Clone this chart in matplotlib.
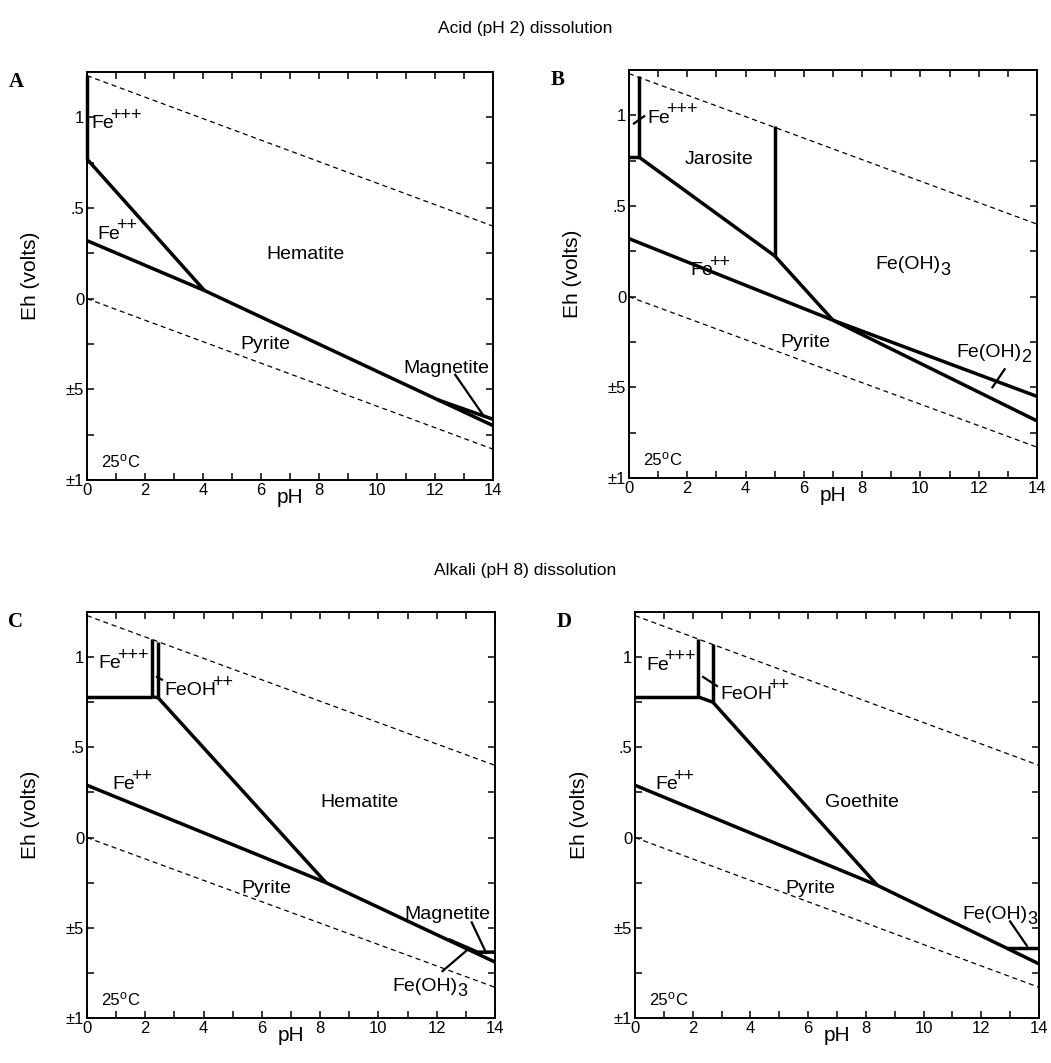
import matplotlib
matplotlib.use("Agg")
import matplotlib.pyplot as plt
from matplotlib.ticker import MultipleLocator

plt.rcParams['font.family'] = ['Liberation Sans', 'DejaVu Sans']

# stability field boundaries (pH, Eh in volts)
water_ph = [0, 14]
o2_eh = [1.23, 0.40]
h2_eh = [0.0, -0.83]

a_lines = [
    ([0, 0], [1.23, 0.77]),
    ([0, 4.05], [0.77, 0.045]),
    ([0, 4.05], [0.32, 0.045]),
    ([4.05, 14], [0.045, -0.70]),
    ([12.1, 14], [-0.558, -0.665]),
]
a_ptr = [([12.7, 13.65], [-0.42, -0.64])]
# (text, superscript, subscript, pH, Eh)
a_labels = [('Fe', '+++', '', 0.14, 0.94), ('Fe', '++', '', 0.35, 0.33),
            ('Hematite', '', '', 6.2, 0.22), ('Pyrite', '', '', 5.3, -0.28),
            ('Magnetite', '', '', 10.9, -0.41)]

b_lines = [
    ([0.34, 0.34], [1.215, 0.77]),
    ([0, 0.34], [0.77, 0.77]),
    ([0.34, 5.0], [0.77, 0.225]),
    ([5.0, 5.0], [0.225, 0.94]),
    ([5.0, 7.0], [0.225, -0.13]),
    ([0, 7.0], [0.32, -0.13]),
    ([7.0, 14], [-0.13, -0.55]),
    ([7.0, 14], [-0.13, -0.685]),
]
b_ptr = [([0.17, 0.52], [0.955, 0.995]), ([12.47, 12.89], [-0.50, -0.40])]
b_labels = [('Fe', '+++', '', 0.62, 0.96), ('Jarosite', '', '', 1.92, 0.73),
            ('Fe', '++', '', 2.1, 0.12), ('Fe(OH)', '', '3', 8.44, 0.15),
            ('Pyrite', '', '', 5.2, -0.28), ('Fe(OH)', '', '2', 11.22, -0.33)]

c_lines = [
    ([0, 2.23], [0.78, 0.78]),
    ([2.23, 2.23], [0.78, 1.10]),
    ([2.44, 2.44], [0.775, 1.085]),
    ([2.23, 2.44, 8.2], [0.78, 0.775, -0.25]),
    ([0, 8.2], [0.29, -0.25]),
    ([8.2, 14], [-0.25, -0.69]),
    ([12.4, 13.4, 14], [-0.565, -0.635, -0.635]),
]
c_ptr = [([2.40, 2.57], [0.89, 0.875]), ([13.2, 13.7], [-0.47, -0.64]),
         ([12.2, 13.07], [-0.74, -0.62])]
c_labels = [('Fe', '+++', '', 0.38, 0.94), ('FeOH', '++', '', 2.64, 0.79),
            ('Fe', '++', '', 0.86, 0.27), ('Hematite', '', '', 8.0, 0.17),
            ('Pyrite', '', '', 5.3, -0.31), ('Magnetite', '', '', 10.9, -0.45),
            ('Fe(OH)', '', '3', 10.47, -0.85)]

d_lines = [
    ([0, 2.18], [0.78, 0.78]),
    ([2.18, 2.18], [0.78, 1.10]),
    ([2.70, 2.70], [0.75, 1.075]),
    ([2.18, 2.70, 8.4], [0.78, 0.75, -0.265]),
    ([0, 8.4], [0.29, -0.265]),
    ([8.4, 14], [-0.265, -0.70]),
    ([12.9, 14], [-0.612, -0.612]),
]
d_ptr = [([2.36, 2.84], [0.89, 0.84]), ([13.0, 13.58], [-0.465, -0.60])]
d_labels = [('Fe', '+++', '', 0.38, 0.93), ('FeOH', '++', '', 2.95, 0.77),
            ('Fe', '++', '', 0.69, 0.27), ('Goethite', '', '', 6.6, 0.17),
            ('Pyrite', '', '', 5.2, -0.31), ('Fe(OH)', '', '3', 11.33, -0.45)]

xticks = [0, 2, 4, 6, 8, 10, 12, 14]
yticks = [-1, -0.5, 0, 0.5, 1]
ytick_labels = ['\u00b11', '\u00b15', '0', '.5', '1']

W, H = 1051, 1063
fig = plt.figure(figsize=(W / 100, H / 100), dpi=100)


def make_axes(l, t, r, b):
    return fig.add_axes([l / W, 1 - b / H, (r - l) / W, (b - t) / H])


def put_label(ax, txt, sup, sub, x, y, size=14):
    t = ax.text(x, y, txt, fontsize=size, ha='left', va='baseline')
    fig.canvas.draw()
    w = t.get_window_extent().width * 72 / fig.dpi
    if sup:
        ax.annotate(sup, (x, y), xytext=(w - 3, 6), textcoords='offset points',
                    fontsize=size - 1, ha='left', va='baseline')
    if sub:
        ax.annotate(sub, (x, y), xytext=(w, -4), textcoords='offset points',
                    fontsize=size - 1, ha='left', va='baseline')


def panel(ax, lines, ptrs, labels, letter):
    ax.plot(water_ph, o2_eh, color='black', lw=0.9, ls=(0, (4, 3)))
    ax.plot(water_ph, h2_eh, color='black', lw=0.9, ls=(0, (4, 3)))
    for x, y in lines:
        ax.plot(x, y, color='black', lw=2.5, solid_capstyle='butt',
                solid_joinstyle='miter', clip_on=False)
    for x, y in ptrs:
        ax.plot(x, y, color='black', lw=1.6, clip_on=False)
    ax.set_xlim(0, 14)
    ax.set_ylim(-1, 1.25)
    for txt, sup, sub, x, y in labels:
        put_label(ax, txt, sup, sub, x, y)
    ax.text(0.48, -0.93, '25', fontsize=12, ha='left', va='baseline')
    ax.annotate('o', (0.48, -0.93), xytext=(13.5, 4.5),
                textcoords='offset points', fontsize=9, va='baseline')
    ax.annotate('C', (0.48, -0.93), xytext=(19, 0),
                textcoords='offset points', fontsize=12, va='baseline')
    ax.set_xticks(xticks)
    ax.set_xticklabels([str(v) for v in xticks])
    ax.set_yticks(yticks)
    ax.set_yticklabels(ytick_labels)
    ax.xaxis.set_minor_locator(MultipleLocator(1))
    ax.yaxis.set_minor_locator(MultipleLocator(0.25))
    ax.tick_params(which='both', direction='in', top=True, right=True,
                   length=5, width=1.1, labelsize=12, pad=2)
    for s in ax.spines.values():
        s.set_linewidth(1.4)
    ax.set_xlabel('pH', fontsize=15)
    ax.xaxis.set_label_coords(0.5, -0.02)
    ax.xaxis.label.set_va('top')
    ax.set_ylabel('Eh (volts)', fontsize=15)
    ax.yaxis.set_label_coords(-0.115, 0.5)
    ax.text(-0.175, 0.975, letter, transform=ax.transAxes, fontsize=15,
            fontweight='bold', family='Liberation Serif', ha='center',
            va='center')


ax_a = make_axes(87, 72, 493, 480)
ax_b = make_axes(629, 70, 1037, 478)
ax_c = make_axes(87, 612, 495, 1018)
ax_d = make_axes(635, 612, 1039, 1018)

panel(ax_a, a_lines, a_ptr, a_labels, 'A')
panel(ax_b, b_lines, b_ptr, b_labels, 'B')
panel(ax_c, c_lines, c_ptr, c_labels, 'C')
panel(ax_d, d_lines, d_ptr, d_labels, 'D')

fig.text(0.5, 1 - 28 / H, 'Acid (pH 2) dissolution', fontsize=12.5,
         ha='center', va='center')
fig.text(0.5, 1 - 570 / H, 'Alkali (pH 8) dissolution', fontsize=12.5,
         ha='center', va='center')

fig.savefig('out.png', dpi=100)
